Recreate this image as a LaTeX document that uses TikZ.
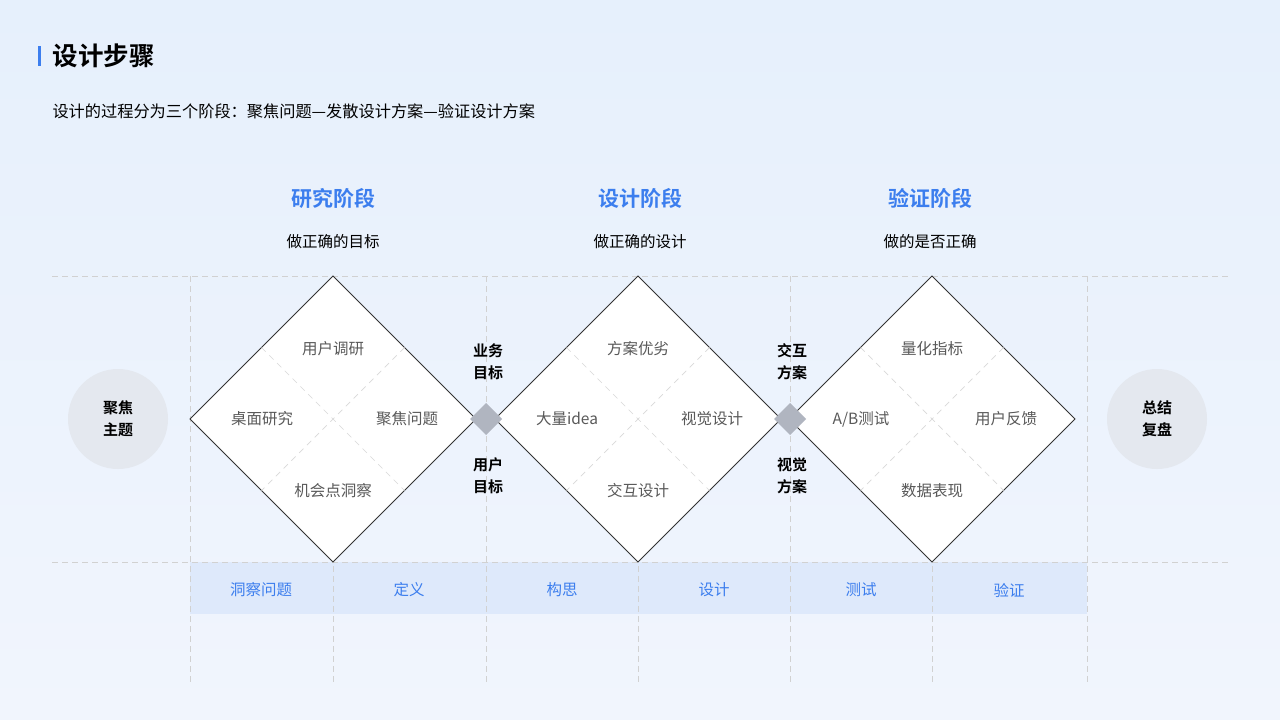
\documentclass[tikz,border=0pt]{standalone}
\usepackage{fontspec}
\setmainfont{Noto Sans CJK SC}
\newfontfamily\cjkb{Noto Sans CJK SC Bold}
\definecolor{bgtop}{HTML}{E6F0FC}
\definecolor{bgbot}{HTML}{F1F5FD}
\definecolor{bandc}{HTML}{DEE9FB}
\definecolor{bluet}{HTML}{3C7EEE}
\definecolor{gemc}{HTML}{B0B5C0}
\definecolor{circc}{HTML}{E4E8EF}
\begin{document}
\begin{tikzpicture}[x=1pt,y=-1pt,
  grid/.style={draw=black!18,dash pattern=on 6pt off 4pt,line width=0.7pt},
  dia/.style={draw=black!80,fill=white,line width=0.8pt},
  inner/.style={draw=black!15,dash pattern=on 6pt off 5pt,line width=0.7pt},
  lbl/.style={font=\fontsize{15.5}{18}\selectfont,text=black!65},
  band/.style={font=\fontsize{15.5}{18}\selectfont,text=bluet},
  phase/.style={font=\cjkb\fontsize{21}{24}\selectfont,text=bluet},
  sub/.style={font=\fontsize{15.5}{18}\selectfont,text=black},
  mid/.style={font=\cjkb\fontsize{15}{22}\selectfont,align=center,text=black},
  circ/.style={circle,fill=circc,minimum size=100pt,inner sep=0pt,font=\cjkb\fontsize{15}{22}\selectfont,align=center},
  gem/.style={fill=gemc}]
\useasboundingbox (0,0) rectangle (1280,720);
\shade[top color=bgtop,bottom color=bgbot] (0,0) rectangle (1280,720);
\fill[bluet] (38,46) rectangle (41,66);
\node[anchor=west,font=\cjkb\fontsize{25.5}{28}\selectfont] (title) at (49,56) {设计步骤};
\node[anchor=west,font=\fontsize{16.2}{18}\selectfont] (desc) at (49,111) {设计的过程分为三个阶段：聚焦问题—发散设计方案—验证设计方案};
\fill[bandc] (190,562) rectangle (1087,614);
\draw[grid] (52,276) -- (1228,276);
\draw[grid] (52,562) -- (1228,562);
\foreach \x in {190,333,486,638,790,932,1087} \draw[grid] (\x,276) -- (\x,685);
\foreach \c/\a/\b/\d/\e/\f in {333/用户调研/桌面研究/聚焦问题/机会点洞察/1, 638/方案优劣/大量idea/视觉设计/交互设计/2, 932/量化指标/A\slash B测试/用户反馈/数据表现/3}{
  \draw[dia] (\c-143,419) -- (\c,276) -- (\c+143,419) -- (\c,562) -- cycle;
  \draw[inner] (\c-71.5,347.5) -- (\c+71.5,490.5);
  \draw[inner] (\c+71.5,347.5) -- (\c-71.5,490.5);
  \node[lbl] (t\f) at (\c,349) {\a};
  \node[lbl] (l\f) at (\c-71,419) {\b};
  \node[lbl] (r\f) at (\c+74,419) {\d};
  \node[lbl] (b\f) at (\c,491) {\e};
}
\fill[gem] (486,403) -- (502,419) -- (486,435) -- (470,419) -- cycle;
\fill[gem] (790,403) -- (806,419) -- (790,435) -- (774,419) -- cycle;
\node[mid] (m1) at (488,362) {业务\\目标};
\node[mid] (m2) at (488,476) {用户\\目标};
\node[mid] (m3) at (792,362) {交互\\方案};
\node[mid] (m4) at (792,476) {视觉\\方案};
\node[circ] (c1) at (118,419) {聚焦\\主题};
\node[circ] (c2) at (1157,419) {总结\\复盘};
\node[phase] (p1) at (333,198) {研究阶段};
\node[phase] (p2) at (640,198) {设计阶段};
\node[phase] (p3) at (930,198) {验证阶段};
\node[sub] (s1) at (333,242) {做正确的目标};
\node[sub] (s2) at (640,242) {做正确的设计};
\node[sub] (s3) at (930,242) {做的是否正确};
\foreach \x/\t/\n in {261/洞察问题/1,409/定义/2,562/构思/3,714/设计/4,861/测试/5,1009/验证/6}
  \node[band] (bd\n) at (\x,590) {\t};
\end{tikzpicture}
\end{document}
